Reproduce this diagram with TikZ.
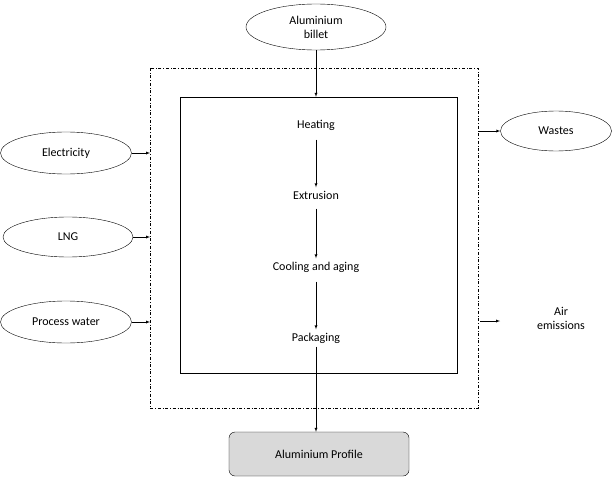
\documentclass[tikz,border=0pt]{standalone}
\usepackage{fontspec}
\setmainfont{Carlito}
\usetikzlibrary{shapes, shapes.geometric}

\begin{document}
\begin{tikzpicture}[x=1pt, y=-1pt, font=\fontsize{12}{14}\selectfont]
\useasboundingbox (0,0) rectangle (615,476);
\node[draw, ellipse, minimum width=140, minimum height=46, inner sep=0, align=center] (b1) at (316,27) {Aluminium\\billet};
\node[draw, ellipse, minimum width=131, minimum height=42, inner sep=0] (i1) at (66,153) {Electricity};
\node[draw, ellipse, minimum width=130, minimum height=40, inner sep=0] (i2) at (68,237) {LNG};
\node[draw, ellipse, minimum width=131, minimum height=42, inner sep=0] (i3) at (66,322) {Process water};
\node[draw, ellipse, minimum width=111, minimum height=40, inner sep=0] (o1) at (556,131) {Wastes};
\node[align=center] (o2) at (561,318) {Air\\emissions};
\node[draw, rounded corners=6, fill=gray!30, minimum width=180, minimum height=44] (p1) at (319,454) {Aluminium Profile};
% Boundaries
\draw[dash dot] (150,68) rectangle (478,408);
\node[draw, minimum width=277, minimum height=276, inner sep=0] (sys) at (318.5,235) {};
\coordinate (bl) at (150,0);
\coordinate (br) at (478,0);
% Process steps
\node (s1) at (316,125) {Heating};
\node (s2) at (316,195) {Extrusion};
\node (s3) at (316,267) {Cooling and aging};
\node (s4) at (316,338) {Packaging};
% Arrows
\draw [->, thin, >=latex] (b1.south)--(sys.north -| b1.south);
\draw [->, thin, >=latex] ([yshift=-6]s1.south)--(s2.north);
\draw [->, thin, >=latex] ([yshift=-6]s2.south)--(s3.north);
\draw [->, thin, >=latex] ([yshift=-6]s3.south)--(s4.north);
\draw [->, thin, >=latex] (s4.south)--(p1.north -| s4.south);
\draw [->, thin, >=latex] (i1.east)--(i1.east -| bl);
\draw [->, thin, >=latex] (i2.east)--(i2.east -| bl);
\draw [->, thin, >=latex] (i3.east)--(i3.east -| bl);
\draw [->, thin, >=latex] (o1.west -| br)--(o1.west);
\draw [->, thin, >=latex] ([xshift=2]br |- 0,321)--(500,321);
\end{tikzpicture}
\end{document}
